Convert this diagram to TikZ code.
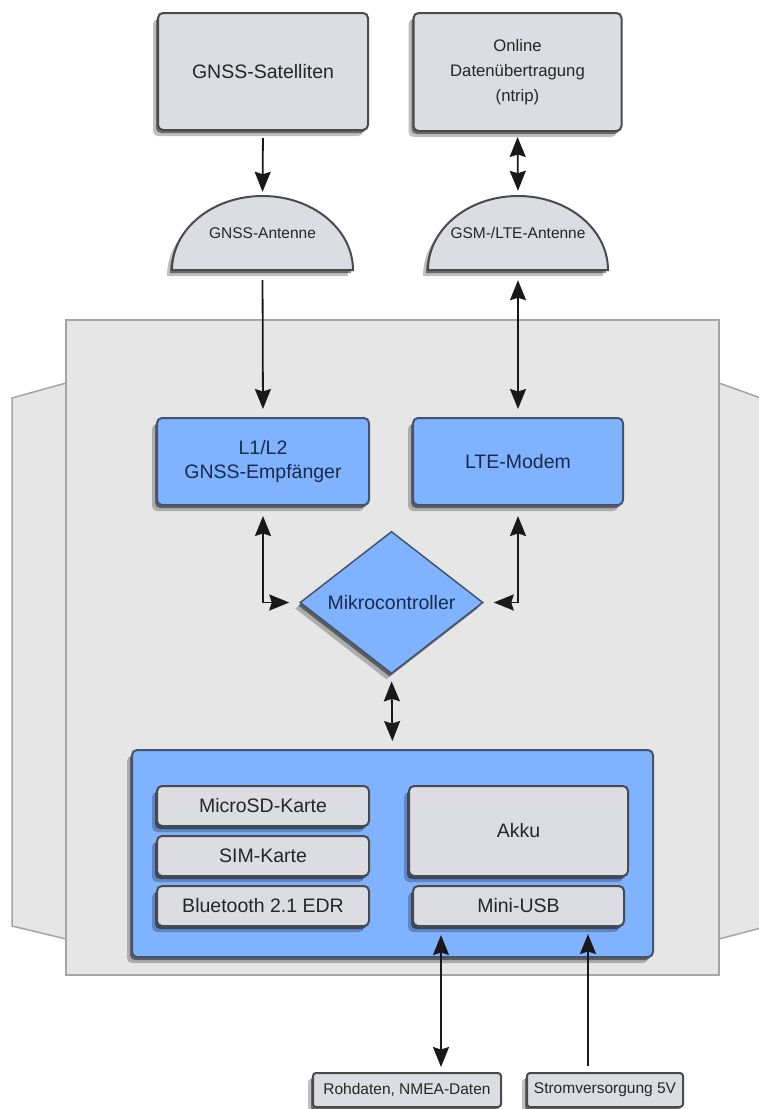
\documentclass[tikz,border=0pt]{standalone}
\usepackage{fontspec}
\setmainfont{Liberation Sans}
\usepackage{xcolor}
\usetikzlibrary{shapes.geometric,shadows,arrows.meta,positioning}

\definecolor{gehaeuse}{HTML}{E6E6E6}
\definecolor{gehaeuserand}{HTML}{A4A4A4}
\definecolor{kasten}{HTML}{DCDCE3}
\definecolor{kastenrand}{HTML}{4A4A4A}
\definecolor{blau}{HTML}{80B3FF}
\definecolor{blaurand}{HTML}{46536C}
\definecolor{blautext}{HTML}{1A2A48}

\tikzset{
  schatten/.style={
    drop shadow={shadow xshift=-2pt, shadow yshift=-3pt, opacity=.45, fill=black},
    drop shadow={shadow xshift=-5pt, shadow yshift=-6pt, opacity=.25, fill=black}},
  grau/.style={draw=kastenrand, fill=kasten, line width=2pt, rounded corners=5pt, schatten,
    align=center, inner sep=0pt, text=black!85, font=\gross},
  blaubox/.style={grau, draw=blaurand, fill=blau, text=blautext},
  antenne/.style={inner sep=0pt, align=center, text=black!85, font=\klein},
  kuppel/.style={fill=kasten, draw=kastenrand, line width=2pt, schatten},
  spitze/.tip={Stealth[length=20pt,width=16pt,inset=2.5pt]},
  pfeil/.style={line width=1.8pt, black!90, shorten <=7pt, shorten >=4pt, -spitze},
  doppel/.style={pfeil, shorten <=5pt, shorten >=5pt, spitze-spitze}
}

\newcommand{\gross}{\fontsize{19.5}{24}\selectfont}
\newcommand{\mittel}{\fontsize{16.7}{25}\selectfont}
\newcommand{\klein}{\fontsize{15.5}{19}\selectfont}

\begin{document}
\begin{tikzpicture}[x=1pt,y=1pt]
  \useasboundingbox (0,0) rectangle (759,-1109);

  % Gehäuse
  \filldraw[fill=gehaeuse, draw=gehaeuserand, line width=1.5pt]
    (66,-383) -- (12,-398) -- (12,-926) -- (66,-939);
  \filldraw[fill=gehaeuse, draw=gehaeuserand, line width=1.5pt]
    (719,-383) -- (780,-405) -- (780,-923) -- (719,-939);
  \filldraw[fill=gehaeuse, draw=gehaeuserand, line width=1.5pt]
    (66,-320) rectangle (719,-975);

  % oben
  \node[grau, minimum width=210, minimum height=117] (gnss) at (263,-71.5) {GNSS-Satelliten};
  \node[grau, font=\mittel, minimum width=208, minimum height=118] (online) at (517.5,-72)
    {Online\\Datenübertragung\\(ntrip)};

  % Antennen
  \draw[kuppel] (353,-270) arc[start angle=0, end angle=180, x radius=90.5, y radius=74] -- cycle;
  \draw[kuppel] (608,-270) arc[start angle=0, end angle=180, x radius=90, y radius=74] -- cycle;
  \node[antenne, minimum width=181, minimum height=74] (gnssant) at (262.5,-233) {GNSS-Antenne};
  \node[antenne, minimum width=180, minimum height=74] (gsmant) at (518,-233) {GSM-/LTE-Antenne};

  % Empfänger und Modem
  \node[blaubox, minimum width=212, minimum height=87] (empf) at (263,-461.5)
    {L1/L2\\GNSS-Empfänger};
  \node[blaubox, minimum width=210, minimum height=87] (modem) at (518,-461.5) {LTE-Modem};
  \node[blaubox, shape=diamond, rounded corners=0pt, line width=1.5pt, minimum width=183, minimum height=121]
    (mc) at (391.5,-602.5) {Mikrocontroller};

  % Module
  \node[blaubox, minimum width=521, minimum height=207] (modul) at (392.5,-853.5) {};
  \node[grau, minimum width=212, minimum height=40] (sd) at (263,-806) {MicroSD-Karte};
  \node[grau, minimum width=212, minimum height=40] (sim) at (263,-856) {SIM-Karte};
  \node[grau, minimum width=212, minimum height=40] (bt) at (263,-906) {Bluetooth 2.1 EDR};
  \node[grau, minimum width=219, minimum height=90] (akku) at (518.5,-831) {Akku};
  \node[grau, minimum width=211, minimum height=40] (usb) at (518.5,-906) {Mini-USB};

  % unten
  \node[grau, font=\klein, rounded corners=3pt, minimum width=188, minimum height=34] (roh) at (407,-1090)
    {Rohdaten, NMEA-Daten};
  \node[grau, font=\klein, rounded corners=3pt, minimum width=156, minimum height=34] (strom) at (605,-1090)
    {Stromversorgung 5V};

  % Verbindungen
  \draw[pfeil] (gnss.south) -- (gnssant.north);
  \draw[doppel] (online.south) -- (gsmant.north);
  \draw[pfeil, shorten <=10pt, shorten >=8pt] (gnssant.south) -- (empf.north);
  \draw[doppel, shorten <=10pt, shorten >=8pt] (gsmant.south) -- (modem.north);
  \draw[doppel, shorten <=10pt, shorten >=10pt] (empf.south) |- (mc.west);
  \draw[doppel, shorten <=10pt, shorten >=10pt] (modem.south) |- (mc.east);
  \draw[doppel, shorten <=7pt, shorten >=8pt] (mc.south) -- (modul.north);
  \draw[doppel, shorten <=8pt, shorten >=5pt] ([xshift=29pt]usb.south west) -- ([xshift=29pt]usb.south west |- roh.north);
  \draw[pfeil, shorten <=6pt, shorten >=7pt] ([xshift=-37pt]usb.south east |- strom.north) -- ([xshift=-37pt]usb.south east);
\end{tikzpicture}
\end{document}
